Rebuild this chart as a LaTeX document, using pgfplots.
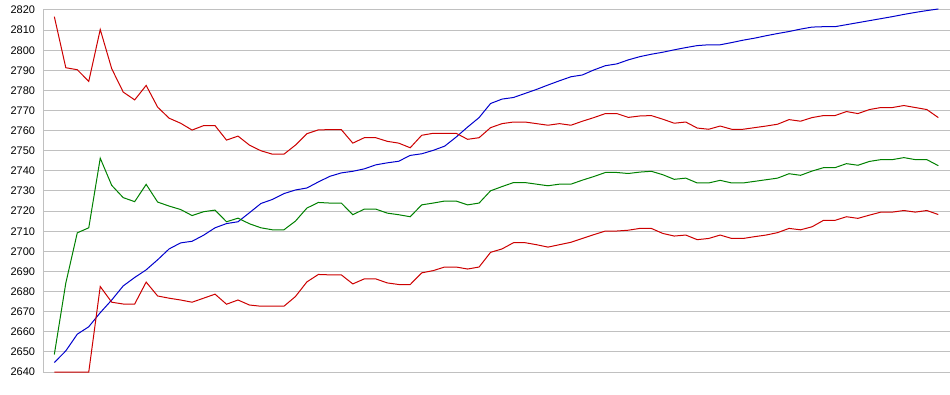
\documentclass[border=0pt]{standalone}
\usepackage{fontspec}
\setmainfont{Liberation Sans}
\usepackage{pgfplots}
\usepackage{pgfplotstable}
\pgfplotsset{compat=1.18}
\definecolor{cblue}{RGB}{0,0,204}
\definecolor{cred}{RGB}{204,0,0}
\definecolor{cgreen}{RGB}{0,128,0}
\definecolor{cgrid}{RGB}{192,192,192}
\pgfplotstableread{
x b r1 g r2
0 2644.7 2816.7 2648.7 2640
1 2650.5 2791.3 2684.2 2640
2 2658.8 2790.3 2709.2 2640
3 2662.5 2784.5 2711.7 2640
4 2669.5 2810.3 2746.3 2682.5
5 2675.8 2790.8 2732.8 2674.7
6 2682.8 2779.2 2726.7 2673.8
7 2687.0 2775.3 2724.7 2673.8
8 2690.8 2782.5 2733.3 2684.7
9 2695.8 2771.7 2724.5 2677.8
10 2701.2 2766.2 2722.5 2676.7
11 2704.2 2763.7 2720.8 2675.8
12 2705.0 2760.3 2717.8 2674.7
13 2708.0 2762.5 2719.7 2676.7
14 2711.7 2762.5 2720.5 2678.7
15 2713.8 2755.3 2714.7 2673.7
16 2714.7 2757.3 2716.5 2675.8
17 2719.2 2752.8 2713.7 2673.3
18 2723.8 2750.0 2711.7 2672.7
19 2725.8 2748.3 2710.7 2672.7
20 2728.7 2748.3 2710.7 2672.7
21 2730.5 2752.8 2715.0 2677.5
22 2731.5 2758.5 2721.5 2684.8
23 2734.5 2760.4 2724.3 2688.5
24 2737.3 2760.5 2724.0 2688.3
25 2739.0 2760.5 2724.0 2688.3
26 2739.8 2753.8 2718.2 2683.8
27 2741.0 2756.5 2721.0 2686.3
28 2743.0 2756.5 2721.0 2686.3
29 2744.0 2754.7 2719.0 2684.3
30 2744.8 2753.8 2718.2 2683.5
31 2747.7 2751.5 2717.2 2683.5
32 2748.5 2757.7 2723.1 2689.3
33 2750.2 2758.7 2724.0 2690.4
34 2752.3 2758.7 2725.0 2692.2
35 2756.8 2758.7 2725.0 2692.2
36 2761.8 2755.7 2723.1 2691.2
37 2766.5 2756.5 2724.0 2692.2
38 2773.5 2761.5 2730.1 2699.5
39 2775.7 2763.5 2732.2 2701.2
40 2776.5 2764.3 2734.2 2704.3
41 2778.5 2764.3 2734.2 2704.3
42 2780.5 2763.5 2733.4 2703.3
43 2782.7 2762.7 2732.6 2702.1
44 2784.8 2763.5 2733.4 2703.3
45 2786.8 2762.7 2733.4 2704.5
46 2787.7 2764.7 2735.4 2706.4
47 2790.2 2766.5 2737.2 2708.3
48 2792.3 2768.5 2739.2 2710.1
49 2793.2 2768.5 2739.2 2710.1
50 2795.2 2766.6 2738.7 2710.5
51 2796.8 2767.3 2739.4 2711.4
52 2798.0 2767.5 2739.8 2711.4
53 2799.0 2765.7 2738.1 2708.9
54 2800.2 2763.7 2735.8 2707.6
55 2801.3 2764.3 2736.4 2708.1
56 2802.3 2761.3 2734.0 2705.8
57 2802.7 2760.7 2734.0 2706.4
58 2802.7 2762.3 2735.3 2708.1
59 2803.8 2760.7 2734.0 2706.4
60 2805.0 2760.7 2734.0 2706.4
61 2806.0 2761.5 2734.8 2707.3
62 2807.2 2762.3 2735.6 2708.1
63 2808.3 2763.2 2736.4 2709.3
64 2809.3 2765.5 2738.6 2711.4
65 2810.5 2764.7 2737.8 2710.7
66 2811.5 2766.5 2739.9 2712.2
67 2811.7 2767.5 2741.6 2715.4
68 2811.7 2767.5 2741.6 2715.4
69 2812.7 2769.5 2743.6 2717.2
70 2813.7 2768.5 2742.8 2716.4
71 2814.7 2770.5 2744.7 2718.0
72 2815.7 2771.5 2745.6 2719.5
73 2816.7 2771.5 2745.6 2719.5
74 2817.8 2772.5 2746.6 2720.3
75 2818.8 2771.5 2745.6 2719.5
76 2819.7 2770.5 2745.6 2720.3
77 2820.5 2766.5 2742.6 2718.3
}\data
\begin{document}
\begin{tikzpicture}
\useasboundingbox (-43.3bp,-23bp) rectangle (906.7bp,372bp);
\begin{axis}[
  scale only axis,
  width=906.7bp, height=362bp,
  at={(0,0)}, anchor=south west,
  xmin=-0.96, xmax=78.02,
  ymin=2640, ymax=2820,
  ytick={2640,2650,...,2820},
  xtick=\empty,
  ymajorgrids,
  grid style={draw=cgrid, line width=1bp},
  axis y line*=left,
  axis x line*=bottom,
  x axis line style={draw=none},
  y axis line style={draw=cgrid, line width=1bp},
  major tick length=0pt,
  clip=false,
  /pgf/number format/assume math mode=true,
  /pgf/number format/set thousands separator={},
  yticklabel style={font=\fontsize{11bp}{13bp}\selectfont, inner xsep=0pt, xshift=-8bp},
  every axis plot/.append style={line width=1bp, mark=none, line join=miter},
]
\addplot[cblue] table[x=x,y=b] {\data};
\addplot[cred] table[x=x,y=r1] {\data};
\addplot[cgreen] table[x=x,y=g] {\data};
\addplot[cred] table[x=x,y=r2] {\data};
\end{axis}
\end{tikzpicture}
\end{document}
